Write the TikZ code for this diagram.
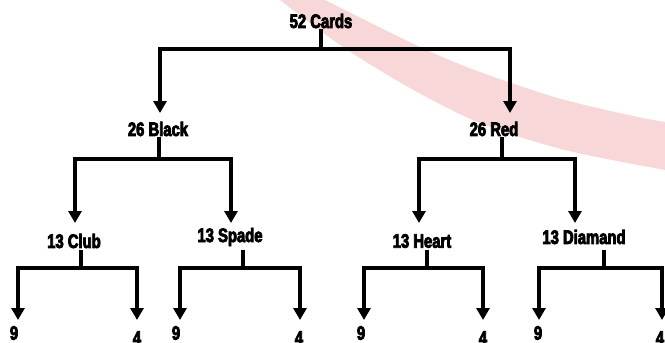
\documentclass[tikz,border=0pt]{standalone}
\usepackage{fontspec}
\newfontfamily\impactish{Liberation Sans}[FakeStretch=0.76,FakeBold=4]
\usetikzlibrary{arrows.meta}
\definecolor{swoosh}{RGB}{247,215,215}
\begin{document}
\begin{tikzpicture}[x=1pt,y=-1pt,
  lbl/.style={inner sep=0pt, font=\impactish\bfseries\fontsize{19.5}{22}\selectfont},
  wire/.style={line width=4pt, line join=miter, line cap=rect},
  arr/.style={line width=4pt, line join=miter, -{Triangle[width=13pt,length=12pt]}}]
\useasboundingbox (0,0) rectangle (665,343);
\fill[white] (0,0) rectangle (665,343);
% background swoosh
\fill[swoosh] plot[smooth] coordinates {(268,-10) (280,0) (343,47) (410,88) (480,123) (565,150) (665,170) (690,174)}
  -- plot[smooth] coordinates {(690,117) (665,122) (565,100) (480,72) (420,47) (325,0) (318,-5)} -- cycle;

% labels
\node[lbl] (r)  at (321,21)  {52 Cards};
\node[lbl] (b)  at (158,129) {26 Black};
\node[lbl] (rd) at (494,129) {26 Red};
\node[lbl] (cl) at (74,241)  {13 Club};
\node[lbl] (sp) at (230,237) {13 Spade};
\node[lbl] (he) at (422,241) {13 Heart};
\node[lbl] (di) at (584,237) {13 Diamand};
\node[lbl] (cl9) at (14,333)  {9};
\node[lbl] (cl4) at (137,338) {4};
\node[lbl] (sp9) at (176,333) {9};
\node[lbl] (sp4) at (299,338) {4};
\node[lbl] (he9) at (361,333) {9};
\node[lbl] (he4) at (483,338) {4};
\node[lbl] (di9) at (538,333) {9};
\node[lbl] (di4) at (660,338) {4};

% connector coordinates
\coordinate (rS) at (321,31);  \coordinate (rJ) at (321,49);
\coordinate (bT) at (160,113); \coordinate (rdT) at (510,113);
\coordinate (bS) at (159,139); \coordinate (bJ) at (159,159);
\coordinate (rdS) at (502,139); \coordinate (rdJ) at (502,159);
\coordinate (clT) at (75,223); \coordinate (spT) at (231,223);
\coordinate (heT) at (419,223); \coordinate (diT) at (575,223);
\coordinate (clS) at (81,252); \coordinate (clJ) at (81,268);
\coordinate (spS) at (243,252); \coordinate (spJ) at (243,268);
\coordinate (heS) at (427,252); \coordinate (heJ) at (427,268);
\coordinate (diS) at (604,252); \coordinate (diJ) at (604,268);
\coordinate (cl9T) at (18,320); \coordinate (cl4T) at (137,320);
\coordinate (sp9T) at (180,320); \coordinate (sp4T) at (300,320);
\coordinate (he9T) at (364,320); \coordinate (he4T) at (483,320);
\coordinate (di9T) at (539,320); \coordinate (di4T) at (662,320);

% connectors
\draw[wire] (rS) -- (rJ);
\draw[arr] (rJ) -| (bT);
\draw[arr] (rJ) -| (rdT);

\draw[wire] (bS) -- (bJ);
\draw[arr] (bJ) -| (clT);
\draw[arr] (bJ) -| (spT);

\draw[wire] (rdS) -- (rdJ);
\draw[arr] (rdJ) -| (heT);
\draw[arr] (rdJ) -| (diT);

\draw[wire] (clS) -- (clJ);
\draw[arr] (clJ) -| (cl9T);
\draw[arr] (clJ) -| (cl4T);

\draw[wire] (spS) -- (spJ);
\draw[arr] (spJ) -| (sp9T);
\draw[arr] (spJ) -| (sp4T);

\draw[wire] (heS) -- (heJ);
\draw[arr] (heJ) -| (he9T);
\draw[arr] (heJ) -| (he4T);

\draw[wire] (diS) -- (diJ);
\draw[arr] (diJ) -| (di9T);
\draw[arr] (diJ) -| (di4T);
\end{tikzpicture}
\end{document}
